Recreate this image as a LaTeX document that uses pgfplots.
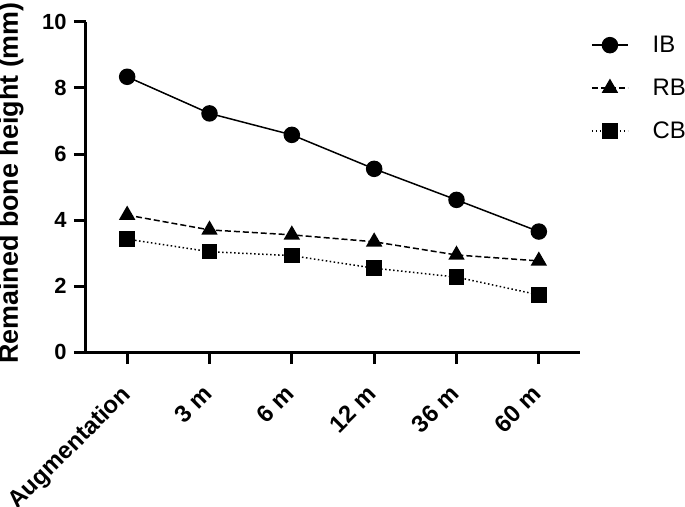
\documentclass[border=0pt]{standalone}
\usepackage{fontspec}
\setmainfont{Liberation Sans}
\usepackage{pgfplots}
\pgfplotsset{compat=1.18}

\begin{document}
\begin{tikzpicture}
  \path[use as bounding box] (-86bp,-155bp) rectangle (599bp,352bp);
  \begin{axis}[
    scale only axis,
    width=494bp, height=330bp,
    xmin=-0.5, xmax=5.5,
    ymin=0, ymax=10,
    axis x line*=bottom,
    axis y line*=left,
    axis line style={line width=3bp, -},
    xtick={0,1,2,3,4,5},
    xticklabels={Augmentation, 3 m, 6 m, 12 m, 36 m, 60 m},
    ytick={0,2,4,6,8,10},
    tick align=outside,
    major tick length=12bp,
    tick style={line width=3bp, black},
    /pgf/number format/assume math mode=true,
    y tick label style={font=\bfseries\fontsize{22}{22}\selectfont, xshift=-4bp},
    x tick label style={font=\bfseries\fontsize{24}{24}\selectfont,
      xshift=-8bp, yshift=-18bp, rotate=45, anchor=north east, inner sep=1bp},
    ylabel={Remained bone height (mm)},
    ylabel style={font=\bfseries\fontsize{27}{27}\selectfont,
      at={(axis description cs:-0.152,0.512)}, anchor=center},
    legend style={draw=none, fill=none,
      at={(rel axis cs:1,1)}, anchor=north west,
      xshift=8bp, yshift=-10bp,
      row sep=21bp,
      font=\fontsize{24}{24}\selectfont,
      /tikz/every odd column/.append style={column sep=22bp}},
    legend cell align=left,
    legend image code/.code={
      \draw[mark repeat=2, mark phase=2]
        plot coordinates {(0bp,0bp) (18bp,0bp) (36bp,0bp)};},
    clip=false,
  ]
    % IB
    \addplot[black, line width=1.5bp, mark=*, mark size=7.5bp,
      mark options={solid}] coordinates {
      (0,8.34) (1,7.23) (2,6.58) (3,5.55) (4,4.61) (5,3.65)
    };
    \addlegendentry{IB}
    % RB
    \addplot[black, line width=1.5bp, dash pattern=on 6bp off 3bp,
      mark=triangle*, mark size=8bp, mark options={solid}] coordinates {
      (0,4.15) (1,3.70) (2,3.55) (3,3.34) (4,2.94) (5,2.76)
    };
    \addlegendentry{RB}
    % CB
    \addplot[black, line width=1.5bp, dash pattern=on 1.5bp off 2.5bp,
      mark=square*, mark size=7bp, mark options={solid}] coordinates {
      (0,3.42) (1,3.04) (2,2.92) (3,2.54) (4,2.27) (5,1.73)
    };
    \addlegendentry{CB}
  \end{axis}
\end{tikzpicture}
\end{document}
